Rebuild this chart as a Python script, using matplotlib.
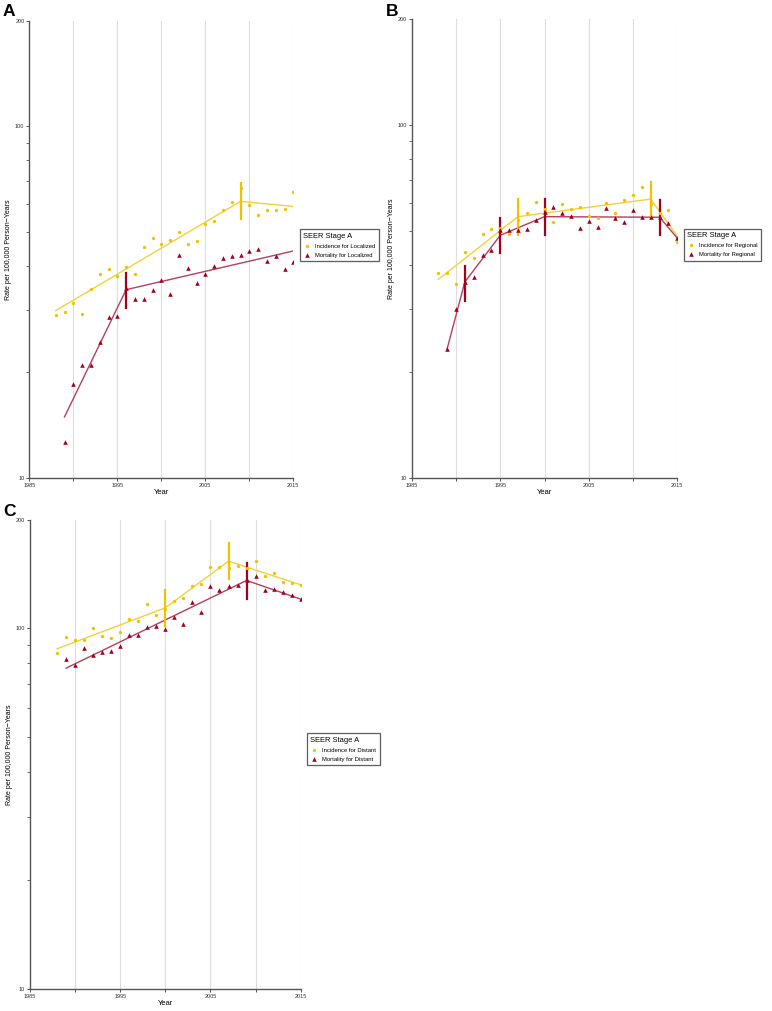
import matplotlib.pyplot as plt
from matplotlib.ticker import FixedLocator, NullFormatter

# observed rates per 100,000, by year
years_a_inc = list(range(1988, 2016))
inc_localized = [29.0, 29.7, 31.5, 29.3, 34.4, 37.9, 39.4, 37.5, 39.8, 38.0,
                 45.4, 48.1, 46.3, 47.6, 49.9, 46.3, 47.2, 52.6, 53.9, 57.8,
                 61.1, 66.8, 59.8, 56.0, 57.9, 57.9, 58.3, 65.1]
years_a_mort = list(range(1989, 2016))
mort_localized = [12.6, 18.5, 21.0, 21.0, 24.3, 28.7, 28.9, 34.6, 32.3, 32.3,
                  34.3, 36.5, 33.3, 43.0, 39.6, 35.8, 38.1, 40.1, 42.3, 42.8,
                  43.0, 44.1, 44.7, 41.4, 42.7, 39.4, 41.0]

years_b_inc = list(range(1988, 2016))
inc_regional = [38.0, 38.0, 35.5, 43.6, 41.9, 49.1, 50.9, 51.0, 49.1, 53.8,
                56.5, 60.5, 57.7, 53.2, 59.6, 57.7, 58.4, 55.2, 54.4, 60.0,
                56.5, 61.4, 63.3, 66.6, 59.8, 56.2, 57.4, 46.5]
years_b_mort = list(range(1989, 2016))
mort_regional = [23.2, 30.1, 35.9, 37.0, 42.7, 44.2, 50.4, 50.4, 50.4, 50.9,
                 53.7, 56.7, 58.7, 56.4, 55.2, 51.1, 53.5, 51.5, 58.2, 54.7,
                 53.0, 57.4, 54.8, 54.8, 54.8, 52.9, 47.8]

years_c_inc = list(range(1988, 2016))
inc_distant = [85.4, 94.8, 92.8, 92.6, 100.4, 95.0, 94.2, 97.9, 106.4, 105.0,
               116.6, 109.3, 113.5, 118.8, 121.4, 131.3, 132.7, 147.9, 147.9, 147.6,
               149.5, 147.0, 153.7, 139.4, 142.4, 134.4, 133.6, 132.4]
years_c_mort = list(range(1989, 2016))
mort_distant = [82.4, 79.3, 88.2, 84.4, 86.0, 86.4, 89.3, 95.6, 96.0, 100.9,
                101.7, 99.6, 107.5, 102.6, 118.1, 111.0, 131.3, 127.8, 131.0, 132.4,
                135.9, 139.4, 127.8, 128.8, 126.4, 123.5, 120.6]

# joinpoint fits: node years and fitted rates
fit_a_inc_x = [1988, 2009, 2015]
fit_a_inc_y = [29.9, 61.2, 59.2]
fit_a_mort_x = [1989, 1996, 2015]
fit_a_mort_y = [14.9, 34.3, 44.2]
fit_b_inc_x = [1988, 1997, 2012, 2015]
fit_b_inc_y = [36.5, 55.0, 61.7, 48.4]
fit_b_mort_x = [1989, 1991, 1995, 2000, 2013, 2015]
fit_b_mort_y = [23.2, 35.9, 48.7, 55.0, 54.8, 47.8]
fit_c_inc_x = [1988, 2000, 2007, 2015]
fit_c_inc_y = [87.8, 114.1, 153.7, 132.2]
fit_c_mort_x = [1989, 2009, 2015]
fit_c_mort_y = [77.6, 135.9, 120.6]

# joinpoint markers: (year, low, high)
jp_a_inc = [(2009, 54.6, 69.0)]
jp_a_mort = [(1996, 30.5, 38.3)]
jp_b_inc = [(1997, 48.9, 61.7), (2012, 55.2, 69.2)]
jp_b_mort = [(1991, 31.8, 39.9), (1995, 43.5, 54.7), (2000, 48.9, 61.7), (2013, 48.7, 61.3)]
jp_c_inc = [(2000, 101.3, 127.5), (2007, 137.0, 172.5)]
jp_c_mort = [(2009, 120.6, 151.8)]

INC_DOT = "#F2C200"
INC_LINE = "#F0D335"
MORT_DOT = "#A3001E"
MORT_LINE = "#B2405E"

plt.rcParams["font.family"] = ["Liberation Sans", "DejaVu Sans"]

fig = plt.figure(figsize=(7.72, 10.11), dpi=100)
W, H = 772, 1011


def add_axes_px(left, top, right, bottom):
    return fig.add_axes([left / W, 1 - bottom / H, (right - left) / W, (bottom - top) / H])


def draw_panel(ax, stage, inc, mort, fits, jps, leg_anchor):
    ax.set_yscale("log")
    ax.set_xlim(1985, 2015)
    ax.set_ylim(10, 200)
    for x in range(1990, 2016, 5):
        ax.axvline(x, color="#dddddd", lw=0.8, zorder=0)

    (fx_i, fy_i), (fx_m, fy_m) = fits
    ax.plot(fx_i, fy_i, color=INC_LINE, lw=1.0, zorder=2)
    ax.plot(fx_m, fy_m, color=MORT_LINE, lw=1.0, zorder=2)
    for x, lo, hi in jps[0]:
        ax.plot([x, x], [lo, hi], color=INC_DOT, lw=1.6, zorder=3)
    for x, lo, hi in jps[1]:
        ax.plot([x, x], [lo, hi], color=MORT_DOT, lw=1.6, zorder=3)

    ax.plot(inc[0], inc[1], "o", color=INC_DOT, ms=2.4, mew=0, zorder=4,
            label=f"Incidence for {stage}")
    ax.plot(mort[0], mort[1], "^", color=MORT_DOT, ms=3.3, mew=0, zorder=4,
            label=f"Mortality for {stage}")

    ax.yaxis.set_major_locator(FixedLocator([10, 100, 200]))
    ax.yaxis.set_major_formatter(plt.FixedFormatter(["10", "100", "200"]))
    ax.yaxis.set_minor_locator(FixedLocator([20, 30, 40, 50, 60, 70, 80, 90]))
    ax.yaxis.set_minor_formatter(NullFormatter())
    ax.set_xticks(range(1985, 2016, 5))
    ax.set_xticklabels(["1985", "", "1995", "", "2005", "", "2015"])
    ax.tick_params(axis="both", which="major", labelsize=4, length=2.5, width=0.6,
                   pad=1, colors="#333333")
    ax.tick_params(axis="y", which="minor", length=2, width=0.5, colors="#333333")

    for side in ("top", "right"):
        ax.spines[side].set_visible(False)
    for side in ("left", "bottom"):
        ax.spines[side].set_color("#555555")
        ax.spines[side].set_linewidth(1.0)

    ax.set_xlabel("Year", fontsize=5.5, labelpad=1)
    ax.set_ylabel("Rate per 100,000 Person\u2212Years", fontsize=5, labelpad=2)

    leg = ax.legend(loc="upper left", bbox_to_anchor=leg_anchor, title="SEER Stage A",
                    fontsize=4.2, title_fontsize=5.4, frameon=True, fancybox=False,
                    edgecolor="#333333", handlelength=1.2, handletextpad=0.8,
                    borderpad=0.6, labelspacing=0.7, borderaxespad=0)
    leg.get_frame().set_linewidth(0.9)
    leg._legend_box.align = "left"


ax_a = add_axes_px(29.3, 20.7, 293.3, 477.7)
draw_panel(ax_a, "Localized",
           (years_a_inc, inc_localized), (years_a_mort, mort_localized),
           ((fit_a_inc_x, fit_a_inc_y), (fit_a_mort_x, fit_a_mort_y)),
           (jp_a_inc, jp_a_mort), (1.025, 0.544))

ax_b = add_axes_px(411.7, 19.0, 677.3, 477.7)
draw_panel(ax_b, "Regional",
           (years_b_inc, inc_regional), (years_b_mort, mort_regional),
           ((fit_b_inc_x, fit_b_inc_y), (fit_b_mort_x, fit_b_mort_y)),
           (jp_b_inc, jp_b_mort), (1.025, 0.543))

ax_c = add_axes_px(30.0, 520.0, 300.7, 988.7)
draw_panel(ax_c, "Distant",
           (years_c_inc, inc_distant), (years_c_mort, mort_distant),
           ((fit_c_inc_x, fit_c_inc_y), (fit_c_mort_x, fit_c_mort_y)),
           (jp_c_inc, jp_c_mort), (1.023, 0.5455))

# panel letters
for letter, px, py in [("A", 3, 4), ("B", 386, 4), ("C", 3, 504)]:
    fig.text(px / W, 1 - py / H, letter, fontsize=12.5, fontweight="bold",
             ha="left", va="top")

fig.savefig("out.png", dpi=100)
plt.close(fig)
